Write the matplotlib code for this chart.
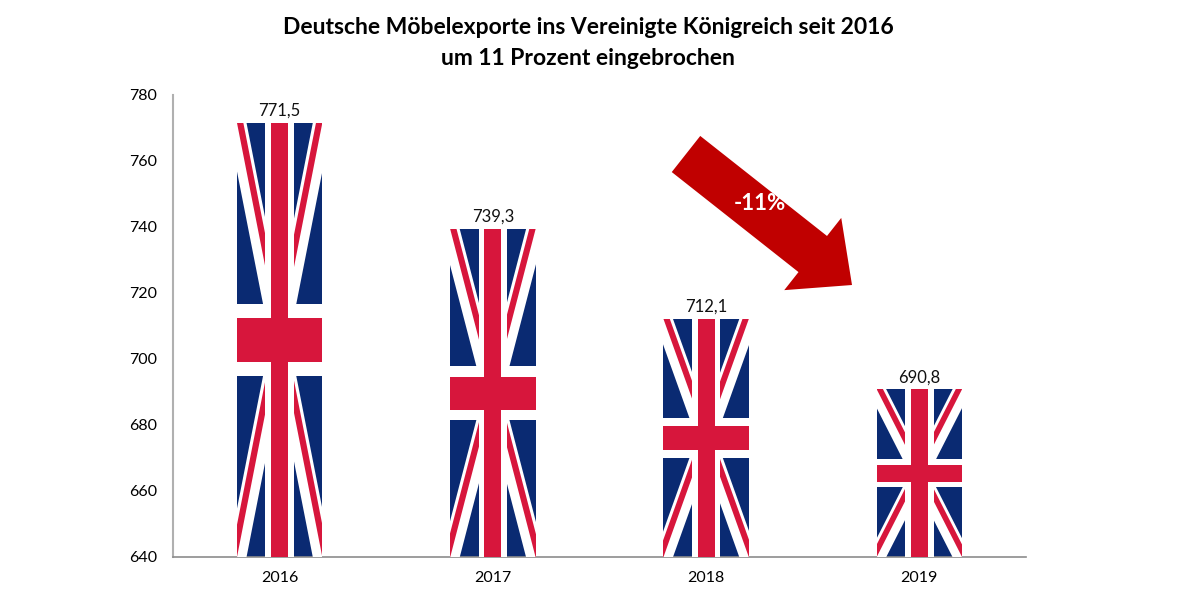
import numpy as np
import matplotlib.pyplot as plt
from matplotlib.patches import Polygon

years = ['2016', '2017', '2018', '2019']
exports = [771.5, 739.3, 712.1, 690.8]
labels = ['771,5', '739,3', '712,1', '690,8']

blau = '#0A2A72'
rot = '#D7163C'
weiss = '#FFFFFF'

plt.rcParams['font.family'] = ['Lato', 'DejaVu Sans']

fig = plt.figure(figsize=(12, 6), dpi=100)
ax = fig.add_axes([0.1442, 0.0717, 0.7108, 0.77])

x = np.arange(len(years))
bars = ax.bar(x, [v - 640 for v in exports], bottom=640, width=0.4, color=blau, zorder=2)


def flagge(rect):
    # Union Jack hochkant in die Saeule legen (u quer 0..30, v laengs 0..60)
    x0, y0 = rect.get_x(), rect.get_y()
    w, h = rect.get_width(), rect.get_height()

    def m(pts):
        return [(x0 + u / 30 * w, y0 + v / 60 * h) for u, v in pts]

    def add(pts, farbe):
        p = Polygon(m(pts), closed=True, facecolor=farbe, edgecolor='none', zorder=3)
        ax.add_patch(p)
        p.set_clip_path(rect)

    c = np.array([15.0, 30.0])
    ecken = [(0, 60), (30, 60), (30, 0), (0, 0)]
    arme = []
    for e in ecken:
        d = np.array(e, float) - c
        d = d / np.hypot(*d)
        n = np.array([d[1], -d[0]])
        if e[0] > 15:
            n = -n  # rechte Arme gespiegelt wie im Original
        arme.append((c + 80 * d, n))
    for a, n in arme:
        add([c - 3 * n, a - 3 * n, a + 3 * n, c + 3 * n], weiss)
    for a, n in arme:
        add([c, a, a + 2 * n, c + 2 * n], rot)
    # Georgskreuz
    add([(10, -5), (20, -5), (20, 65), (10, 65)], weiss)
    add([(-5, 25), (35, 25), (35, 35), (-5, 35)], weiss)
    add([(12, -5), (18, -5), (18, 65), (12, 65)], rot)
    add([(-5, 27), (35, 27), (35, 33), (-5, 33)], rot)


for r in bars.patches:
    flagge(r)

ax.bar_label(bars, labels=labels, padding=3, fontsize=12, color='#111111')

ax.set_ylim(640, 780)
ax.set_yticks(range(640, 781, 20))
ax.set_xlim(-0.5, 3.5)
ax.set_xticks(x)
ax.set_xticklabels(years)
ax.tick_params(axis='y', length=0, pad=11.5, labelsize=11.5)
ax.tick_params(axis='x', length=0, pad=10, labelsize=11.5)
for s in ['top', 'right']:
    ax.spines[s].set_visible(False)
ax.spines['left'].set_color('#B0B0B0')
ax.spines['left'].set_linewidth(1.5)
ax.spines['bottom'].set_color('#8C8C8C')
ax.spines['bottom'].set_linewidth(1.2)

fig.text(0.49, 0.955, 'Deutsche Möbelexporte ins Vereinigte Königreich seit 2016',
         ha='center', va='center', fontsize=16.5, fontweight='bold')
fig.text(0.49, 0.903, 'um 11 Prozent eingebrochen',
         ha='center', va='center', fontsize=16.5, fontweight='bold')

# Pfeil -11 % (Bildpixel, y nach unten)
tail = np.array([686.0, 154.0])
tip = np.array([852.0, 285.0])
u = (tip - tail) / np.hypot(*(tip - tail))
n = np.array([u[1], -u[0]])
basis = tip - 50 * u
pts = [tail + 23 * n, basis + 23 * n, basis + 46 * n, tip,
       basis - 46 * n, basis - 23 * n, tail - 23 * n]
pts = [(p[0] / 100, (600 - p[1]) / 100) for p in pts]
fig.patches.append(Polygon(pts, closed=True, facecolor='#C00000', edgecolor='none',
                           transform=fig.dpi_scale_trans, figure=fig))
fig.text(760 / 1200, 1 - 203 / 600, '-11%', ha='center', va='center',
         fontsize=16, fontweight='bold', color='white')

fig.savefig('out.png', dpi=100)
